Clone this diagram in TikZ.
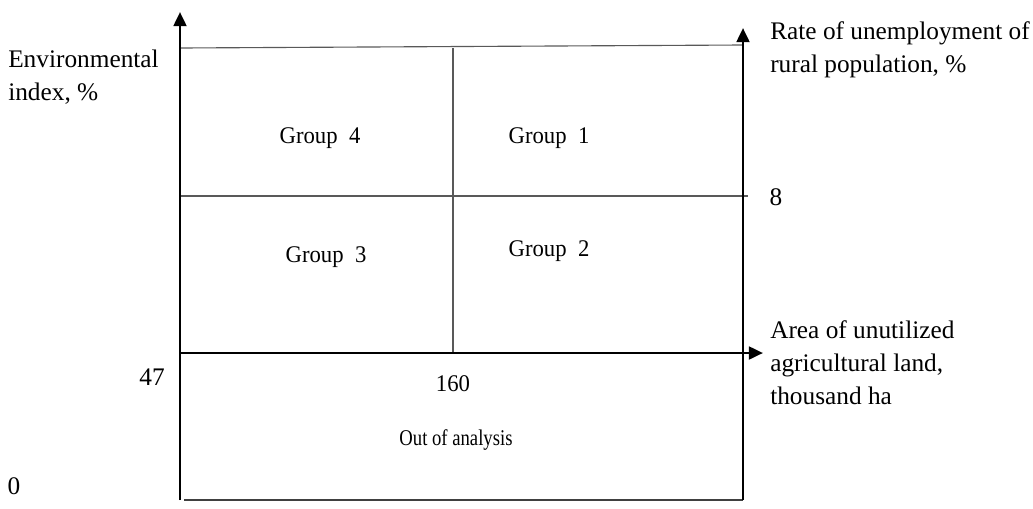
\documentclass[tikz,border=0pt]{standalone}
\usepackage{fontspec}
\setmainfont{Liberation Serif}
\newfontfamily\grpfont[FakeStretch=0.95]{Liberation Serif}
\newfontfamily\outfont[FakeStretch=0.83]{Liberation Serif}
\usetikzlibrary{arrows.meta, positioning}

\begin{document}
\begin{tikzpicture}[x=0.025cm, y=-0.025cm,
    axis/.style={line width=2pt, -{Triangle[length=10pt, width=9pt]}},
    frame/.style={line width=1.1pt, black!75},
    thin/.style={line width=0.8pt, black!65},
    label/.style={font=\fontsize{18}{23.4}\selectfont, align=left, anchor=base west, inner sep=0pt},
    tick/.style={font=\fontsize{18}{20}\selectfont, anchor=base, inner sep=0pt},
    group/.style={font=\grpfont\fontsize{17}{18}\selectfont, inner sep=0pt},
    outside/.style={font=\outfont\fontsize{16}{18}\selectfont, inner sep=0pt}
]
    \useasboundingbox (0,0) rectangle (1033,508);

    % corners of the chart
    \coordinate (O) at (180,500);
    \coordinate (ytop) at (180,12);
    \coordinate (R) at (743,500);
    \coordinate (rtop) at (743,28);
    \coordinate (A) at (180,353);
    \coordinate (xend) at (763,353);
    \coordinate (T1) at (180,48);
    \coordinate (T2) at (743,45);
    \coordinate (M1) at (180,196);
    \coordinate (M2) at (748,196);
    \coordinate (D1) at (453,48);
    \coordinate (D2) at (453,353);
    \coordinate (B1) at (184,500);

    % grid lines
    \draw[thin] (T1) -- (T2);
    \draw[thin] (M1) -- (M2);
    \draw[thin] (D1) -- (D2);
    \draw[frame] (B1) -- (R);

    % axes
    \draw[axis] (O) -- (ytop);
    \draw[axis] (R) -- (rtop);
    \draw[axis] (A) -- (xend);

    % axis labels (base = last line)
    \node[label] (envlabel) at (8,100) {Environmental\\index, \%};
    \node[label] (ratelabel) at (770,72) {Rate of unemployment of\\rural population, \%};
    \node[label] (arealabel) at (770,404) {Area of unutilized\\agricultural land,\\thousand ha};

    % ticks
    \node[tick] (t47) at (152,385) {47};
    \node[tick] (t0) at (14,494) {0};
    \node[tick] (t8) at (776,205) {8};
    \node[group] (t160) at (453,384) {160};

    % groups
    \node[group] (g4) at (320,138) {Group~~4};
    \node[group] (g1) at (549,138) {Group~~1};
    \node[group] (g3) at (326,257) {Group~~3};
    \node[group] (g2) at (549,251) {Group~~2};
    \node[outside] (out) at (456,440) {Out of analysis};
\end{tikzpicture}
\end{document}
